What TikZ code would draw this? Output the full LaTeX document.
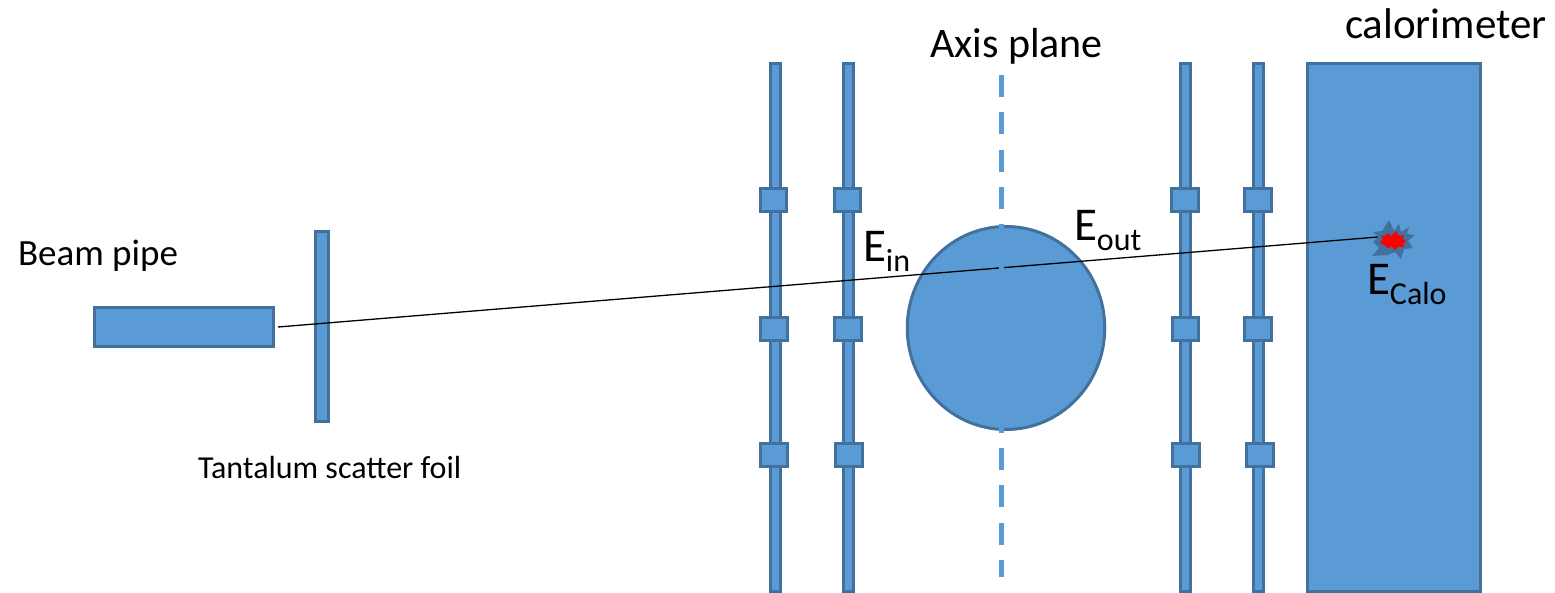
\documentclass[tikz,border=0pt]{standalone}
\usetikzlibrary{shapes.geometric}
\usepackage{fontspec}
\setmainfont{Carlito}
\definecolor{fillb}{HTML}{5B9BD5}
\definecolor{lineb}{HTML}{41719C}
\tikzset{
  part/.style={draw=lineb,fill=fillb,line width=3pt,inner sep=0pt,outer sep=0pt,rectangle},
  lab/.style={inner sep=0pt,outer sep=0pt,anchor=base west,text=black},
  big/.style={font=\fontsize{42}{42}\selectfont},
  energy/.style={font=\fontsize{47}{47}\selectfont},
}
\newcommand{\barv}[4]{\node[part,minimum width=#3pt,minimum height=#4pt] (#1) at #2 {};}
\newcommand{\esub}[1]{E\raisebox{-10pt}{\fontsize{32}{32}\selectfont #1}}
\begin{document}
\begin{tikzpicture}[x=1pt,y=-1pt]
\useasboundingbox (0,0) rectangle (1555,593);
\fill[white] (0,0) rectangle (1555,593);
\barv{pipe}{(183.5,327.5)}{179}{39}
\barv{foil}{(322,326.5)}{13}{190}
\node[part,minimum width=173pt,minimum height=528pt] (calo) at (1393.5,327.5) {};
% detector planes
\barv{pa}{(775,327.5)}{10}{528}
\barv{pb}{(848.5,327.5)}{10}{528}
\barv{pc}{(1185.5,327.5)}{10}{528}
\barv{pd}{(1258.5,327.5)}{10}{528}
\foreach \n/\m/\x/\y in {a/1/773.5/200,a/2/774/329,a/3/774/454.5,
                         b/1/847.5/200,b/2/848/329,b/3/849/454.5,
                         c/1/1185/200,c/2/1185.5/329,c/3/1186/454.5,
                         d/1/1258/200,d/2/1258/329,d/3/1260/454.5}{
  \node[part,minimum width=26.5pt,minimum height=23pt] (s\n\m) at (\x,\y) {};
}
\node[part,ellipse,minimum width=197.5pt,minimum height=203pt] (target) at (1006,328) {};
\coordinate (start) at (278,327);
\coordinate (hit) at (1378,237);
\draw[black,line width=1.3pt] (start) -- (hit);
\coordinate (axtop) at (1001,75);
\coordinate (axbot) at (1001,577);
\draw[fillb,line width=5pt,dash pattern=on 22pt off 15.3pt] (axtop) -- (axbot);
\fill[lineb] (1389,220)--(1394,231)--(1399,224)--(1401,232)--(1409,227)--(1407,234)--(1415,235)--(1408,241)--(1413,248)--(1404,249)--(1401,259)--(1395,252)--(1388,255)--(1372,256)--(1379,248)--(1373,242)--(1378,237)--(1373,232)--(1382,231)--cycle;
\fill[red] (1387,233)--(1391,236)--(1396,231)--(1399,236)--(1404,235)--(1403,239)--(1406,241)--(1403,244)--(1404,247)--(1398,247)--(1395,250)--(1392,247)--(1387,248)--(1385,245)--(1380,243)--(1383,239)--(1381,236)--(1386,236)--cycle;
\node[lab,big] (axis) at (930,58) {Axis plane};
\node[lab,big,font=\fontsize{43}{43}\selectfont] (calot) at (1345,39) {calorimeter};
\node[lab,font=\fontsize{37}{37}\selectfont] (beam) at (18,265.5) {Beam pipe};
\node[lab,font=\fontsize{32}{32}\selectfont] (foilt) at (198,478) {Tantalum scatter foil};
\node[lab,energy] (ein) at (863,262) {\esub{in}};
\node[lab,energy] (eout) at (1074,241) {\esub{out}};
\node[lab,energy] (ecalo) at (1367,295) {\esub{Calo}};
\end{tikzpicture}
\end{document}
